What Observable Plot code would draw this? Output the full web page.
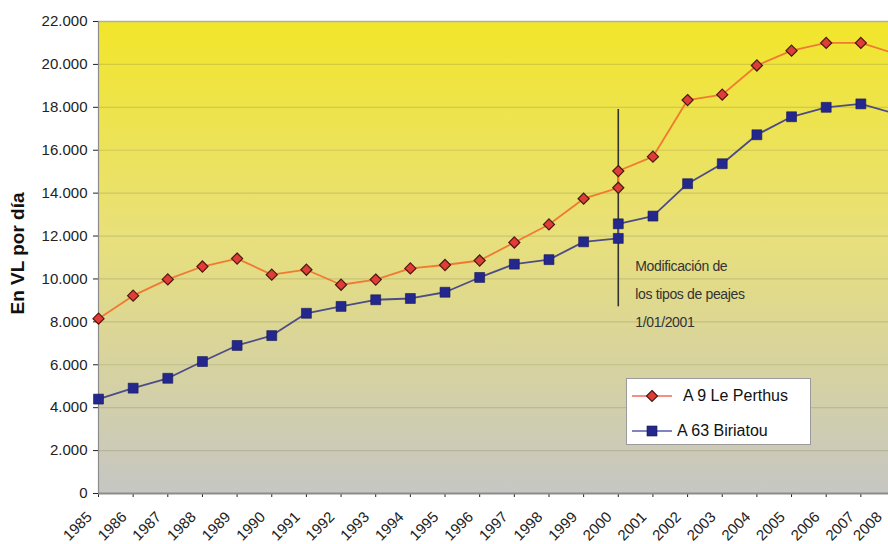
<!DOCTYPE html>
<html>
<head>
<meta charset="utf-8">
<script src="https://cdn.jsdelivr.net/npm/d3@7"></script>
<script src="https://cdn.jsdelivr.net/npm/@observablehq/plot@0.6"></script>
<style>
  html, body { margin: 0; padding: 0; background: #fff; overflow: hidden; }
  #wrap { position: relative; width: 888px; height: 544px; }
  #wrap svg g[aria-label*="axis"] text { font-size: 15px; fill: #222; }
  #legend { position: absolute; left: 626px; top: 378px; width: 185px; height: 67px;
    background: #fff; border: 1px solid #9a9a9a; box-sizing: border-box;
    font-family: "Liberation Sans", Arial, sans-serif; font-size: 16px; color: #111; }
  #legend .row { position: absolute; left: 0; height: 20px; display: flex; align-items: center; }
  #legend svg { display: block; }
</style>
</head>
<body>
<div id="wrap"></div>
<script>
// ---- data ----
const years     = [1985,1986,1987,1988,1989,1990,1991,1992,1993,1994,1995,1996,1997,1998,1999,2000,2000,2001,2002,2003,2004,2005,2006,2007,2008];
const perthus   = [8150,9220,9980,10580,10950,10200,10430,9730,9970,10490,10650,10860,11700,12540,13740,14250,15030,15700,18340,18590,19950,20640,21000,21000,20500];
const biriatou  = [4400,4910,5370,6150,6900,7360,8400,8720,9030,9090,9380,10070,10690,10900,11730,11890,12570,12930,14440,15370,16720,17560,18000,18160,17700];
const seriesNames = ["A 9 Le Perthus", "A 63 Biriatou"];
const yTicks = [0,2000,4000,6000,8000,10000,12000,14000,16000,18000,20000,22000];
const xTicks = [1985,1986,1987,1988,1989,1990,1991,1992,1993,1994,1995,1996,1997,1998,1999,2000,2001,2002,2003,2004,2005,2006,2007,2008];
const yTitle = "En VL por día";
const noteYear = 2000;
const noteRange = [8700, 17900];
const noteText = "Modificación de\nlos tipos de peajes\n1/01/2001";
const noteY = 9480;

const colA = {line: "#f07a32", fill: "#e03c38", stroke: "#4a1a12"};
const colB = {line: "#4c4c86", fill: "#24288e", stroke: "#161650"};

const rowsA = years.map((x, i) => ({x, y: perthus[i]}));
const rowsB = years.map((x, i) => ({x, y: biriatou[i]}));
const fmt = d => d3.format(",")(d).replace(/,/g, ".");
const labelOpts = {x: d => d, frameAnchor: "bottom", textAnchor: "end", lineAnchor: "middle", rotate: -45, dy: 21, fontSize: 15, fill: "#222", text: d => String(d)};

const chart = Plot.plot({
  width: 888,
  height: 544,
  marginLeft: 98,
  marginRight: 0,
  marginTop: 21,
  marginBottom: 51,
  style: {fontFamily: "'Liberation Sans', Arial, sans-serif", fontSize: "15px", color: "#222", background: "transparent", overflow: "hidden"},
  x: {domain: [1985, 2008], range: [98, 895], ticks: xTicks, tickFormat: () => "", tickSize: 4, label: null},
  y: {domain: [0, 22000], ticks: yTicks, tickFormat: fmt, tickSize: 5, tickPadding: 6, label: null},
  marks: [
    Plot.frame({fill: "url(#bggrad)"}),
    Plot.ruleY(yTicks.filter(d => d > 0), {stroke: "#8a8450", strokeOpacity: 0.28, strokeWidth: 1.2}),
    Plot.ruleY([22000], {stroke: "#b0b0a8", strokeWidth: 1.5}),
    Plot.ruleY([0], {stroke: "#8c8c8c", strokeWidth: 2}),
    Plot.ruleX([1985], {stroke: "#8c8c8c", strokeWidth: 1.2}),
    Plot.ruleX([noteYear], {y1: noteRange[0], y2: noteRange[1], stroke: "#333", strokeWidth: 1.6}),
    Plot.line(rowsB, {x: "x", y: "y", stroke: colB.line, strokeWidth: 1.8}),
    Plot.line(rowsA, {x: "x", y: "y", stroke: colA.line, strokeWidth: 1.8}),
    Plot.dot(rowsA, {x: "x", y: "y", symbol: "diamond2", r: 5, fill: colA.fill, stroke: colA.stroke, strokeWidth: 1.2}),
    Plot.dot(rowsB, {x: "x", y: "y", symbol: "square", r: 5.6, fill: colB.fill, stroke: colB.stroke, strokeWidth: 0.6}),
    Plot.text([noteText], {x: noteYear, y: noteY, textAnchor: "start", dx: 17, lineHeight: 2.0, fontSize: 14, fill: "#333"}),
    Plot.text(xTicks.slice(0, -1), {...labelOpts, dx: -9}),
    Plot.text(xTicks.slice(-1), {...labelOpts, dx: -16}),
    Plot.text([yTitle], {frameAnchor: "left", textAnchor: "middle", lineAnchor: "middle", dx: -81, dy: -4, rotate: -90, fontSize: 19, fontWeight: "bold", fill: "#111"})
  ]
});

// gradient background definition
const defs = d3.select(chart).insert("defs", ":first-child");
const g = defs.append("linearGradient").attr("id", "bggrad").attr("x1", 0).attr("y1", 0).attr("x2", 0).attr("y2", 1);
g.append("stop").attr("offset", "0%").attr("stop-color", "#f2e62a");
g.append("stop").attr("offset", "45%").attr("stop-color", "#e8e07a");
g.append("stop").attr("offset", "100%").attr("stop-color", "#c6c6c4");

// condensed look for the annotation
d3.select(chart).selectAll("text")
  .filter(function() { return this.textContent.includes("Modificación"); })
  .attr("letter-spacing", "-0.35px");

const wrap = document.getElementById("wrap");
wrap.appendChild(chart);

// legend
const legend = document.createElement("div");
legend.id = "legend";
const mk = (name, col, sym, top, textLeft) => {
  const shape = sym === "diamond"
    ? `<path d="M20,-5.5L25.5,0L20,5.5L14.5,0Z" fill="${col.fill}" stroke="${col.stroke}" stroke-width="1.2"/>`
    : `<rect x="15" y="-5" width="10" height="10" fill="${col.fill}" stroke="${col.stroke}" stroke-width="0.6"/>`;
  return `<div class="row" style="top:${top}px;left:5px">
    <svg width="42" height="20" viewBox="0 -10 42 20"><line x1="0" x2="40" y1="0" y2="0" stroke="${sym === "diamond" ? "#f06a5a" : "#5a5aaa"}" stroke-width="1.6"/>${shape}</svg>
    <span style="margin-left:${textLeft}px">${name}</span></div>`;
};
legend.innerHTML = mk(seriesNames[0], colA, "diamond", 7, 9) + mk(seriesNames[1], colB, "square", 42, 3);
wrap.appendChild(legend);
</script>
</body>
</html>
